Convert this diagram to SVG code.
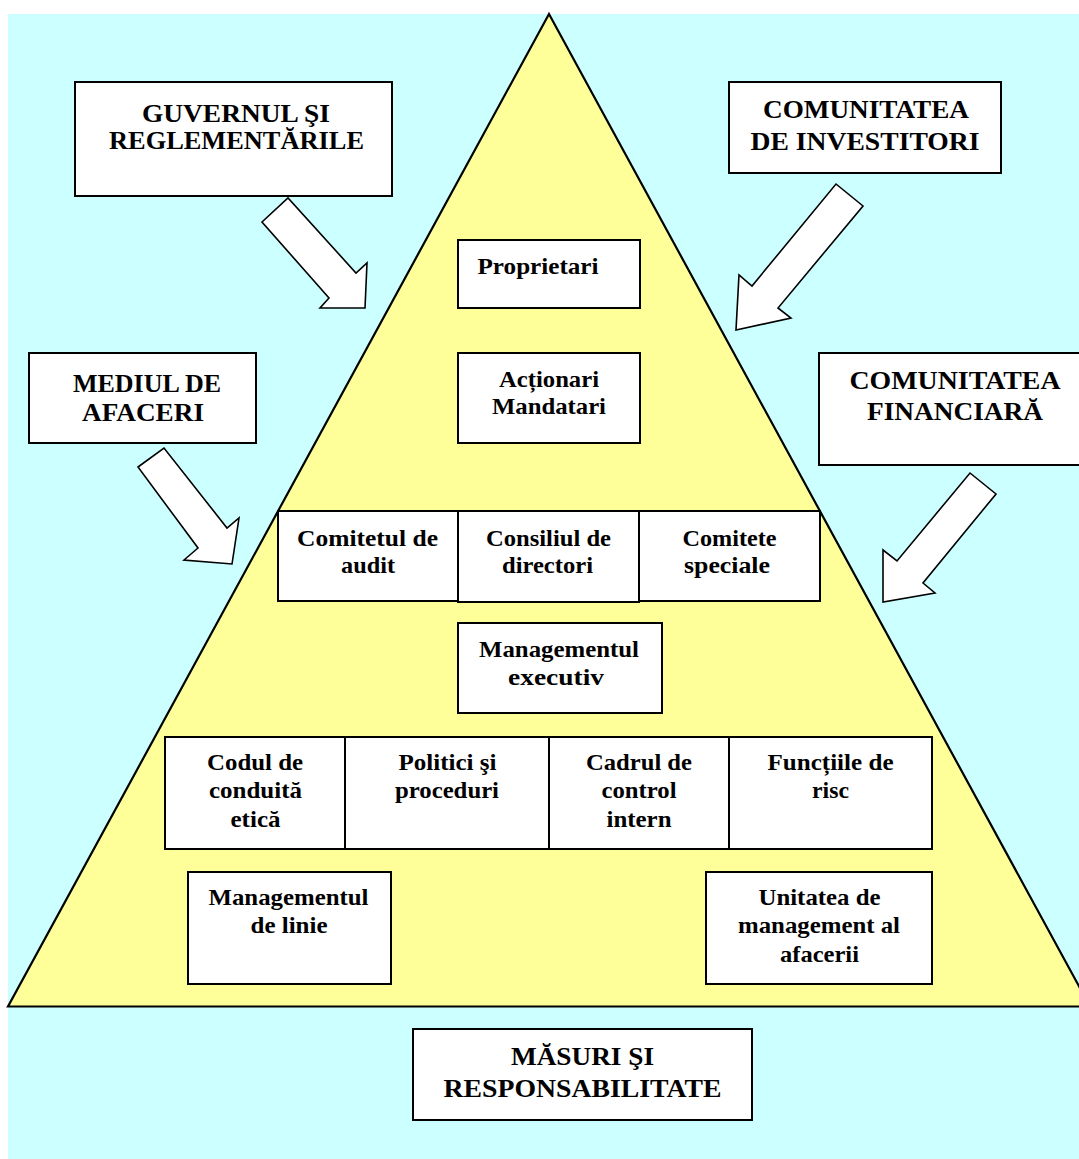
<svg xmlns="http://www.w3.org/2000/svg" width="1079" height="1159" viewBox="0 0 1079 1159">
<style>
.box{fill:#ffffff;stroke:#000000;stroke-width:2}
.arrow{fill:#ffffff;stroke:#000000;stroke-width:1.6;stroke-linejoin:miter}
.out{font-family:"Liberation Serif","Times New Roman",serif;font-weight:bold;font-size:25px;fill:#000;text-anchor:middle}
.in{font-family:"Liberation Serif","Times New Roman",serif;font-weight:bold;font-size:24px;fill:#000;text-anchor:middle}
</style>
<rect x="0" y="0" width="1079" height="1159" fill="#ffffff"/>
<rect id="background" x="8" y="14" width="1071" height="1145" fill="#CCFFFF"/>
<polygon id="pyramid" points="549,14 8,1006.5 1090,1006.5" fill="#FFFF99" stroke="#000" stroke-width="2.2" stroke-linejoin="miter"/>

<g id="guvernul">
<rect class="box" x="75" y="82" width="317" height="114"/>
<text class="out" x="236" y="122" textLength="188" lengthAdjust="spacingAndGlyphs">GUVERNUL ŞI</text>
<text class="out" x="236.5" y="149" textLength="255" lengthAdjust="spacingAndGlyphs">REGLEMENTĂRILE</text>
</g>
<g id="investitori">
<rect class="box" x="729" y="82" width="272" height="91"/>
<text class="out" x="866" y="118" textLength="206" lengthAdjust="spacingAndGlyphs">COMUNITATEA</text>
<text class="out" x="865" y="150" textLength="229" lengthAdjust="spacingAndGlyphs">DE INVESTITORI</text>
</g>
<g id="mediul">
<rect class="box" x="29" y="353" width="227" height="90"/>
<text class="out" x="147" y="392" textLength="148" lengthAdjust="spacingAndGlyphs">MEDIUL DE</text>
<text class="out" x="143" y="421" textLength="122" lengthAdjust="spacingAndGlyphs">AFACERI</text>
</g>
<g id="financiara">
<rect class="box" x="819" y="353" width="264" height="112"/>
<text class="out" x="955" y="389" textLength="211" lengthAdjust="spacingAndGlyphs">COMUNITATEA</text>
<text class="out" x="955" y="420" textLength="176" lengthAdjust="spacingAndGlyphs">FINANCIARĂ</text>
</g>
<g id="masuri">
<rect class="box" x="413" y="1029" width="339" height="91"/>
<text class="out" x="582.5" y="1065" textLength="143" lengthAdjust="spacingAndGlyphs">MĂSURI ŞI</text>
<text class="out" x="582.5" y="1097" textLength="278" lengthAdjust="spacingAndGlyphs">RESPONSABILITATE</text>
</g>

<g id="proprietari">
<rect class="box" x="458" y="240" width="182" height="68"/>
<text class="in" x="538" y="274" textLength="121" lengthAdjust="spacingAndGlyphs">Proprietari</text>
</g>
<g id="actionari">
<rect class="box" x="458" y="353" width="182" height="90"/>
<text class="in" x="549" y="387" textLength="100" lengthAdjust="spacingAndGlyphs">Acționari</text>
<text class="in" x="549" y="414" textLength="114" lengthAdjust="spacingAndGlyphs">Mandatari</text>
</g>
<g id="comitetul-audit">
<rect class="box" x="278" y="511" width="180" height="90"/>
<text class="in" x="367.5" y="546" textLength="141" lengthAdjust="spacingAndGlyphs">Comitetul de</text>
<text class="in" x="368" y="573" textLength="54" lengthAdjust="spacingAndGlyphs">audit</text>
</g>
<g id="consiliul">
<rect class="box" x="458" y="511" width="181" height="91"/>
<text class="in" x="548.5" y="546" textLength="125" lengthAdjust="spacingAndGlyphs">Consiliul de</text>
<text class="in" x="547.5" y="573" textLength="91" lengthAdjust="spacingAndGlyphs">directori</text>
</g>
<g id="comitete-speciale">
<rect class="box" x="639" y="511" width="181" height="90"/>
<text class="in" x="729.5" y="546" textLength="94" lengthAdjust="spacingAndGlyphs">Comitete</text>
<text class="in" x="727" y="573" textLength="86" lengthAdjust="spacingAndGlyphs">speciale</text>
</g>
<g id="management-executiv">
<rect class="box" x="458" y="623" width="204" height="90"/>
<text class="in" x="559" y="657" textLength="160" lengthAdjust="spacingAndGlyphs">Managementul</text>
<text class="in" x="556" y="685" textLength="96" lengthAdjust="spacingAndGlyphs">executiv</text>
</g>
<g id="codul">
<rect class="box" x="165" y="737" width="180" height="112"/>
<text class="in" x="255" y="770" textLength="96" lengthAdjust="spacingAndGlyphs">Codul de</text>
<text class="in" x="255.5" y="798" textLength="93" lengthAdjust="spacingAndGlyphs">conduită</text>
<text class="in" x="255.5" y="827" textLength="50" lengthAdjust="spacingAndGlyphs">etică</text>
</g>
<g id="politici">
<rect class="box" x="345" y="737" width="204" height="112"/>
<text class="in" x="447.5" y="770" textLength="98" lengthAdjust="spacingAndGlyphs">Politici şi</text>
<text class="in" x="447" y="798" textLength="104" lengthAdjust="spacingAndGlyphs">proceduri</text>
</g>
<g id="cadrul">
<rect class="box" x="549" y="737" width="180" height="112"/>
<text class="in" x="639" y="770" textLength="106" lengthAdjust="spacingAndGlyphs">Cadrul de</text>
<text class="in" x="639" y="798" textLength="75" lengthAdjust="spacingAndGlyphs">control</text>
<text class="in" x="639" y="827" textLength="65" lengthAdjust="spacingAndGlyphs">intern</text>
</g>
<g id="functiile">
<rect class="box" x="729" y="737" width="203" height="112"/>
<text class="in" x="830.5" y="770" textLength="126" lengthAdjust="spacingAndGlyphs">Funcțiile de</text>
<text class="in" x="830.5" y="798" textLength="37" lengthAdjust="spacingAndGlyphs">risc</text>
</g>
<g id="management-linie">
<rect class="box" x="188" y="872" width="203" height="112"/>
<text class="in" x="288.5" y="905" textLength="160" lengthAdjust="spacingAndGlyphs">Managementul</text>
<text class="in" x="289" y="933" textLength="77" lengthAdjust="spacingAndGlyphs">de linie</text>
</g>
<g id="unitatea">
<rect class="box" x="706" y="872" width="226" height="112"/>
<text class="in" x="819.5" y="905" textLength="122" lengthAdjust="spacingAndGlyphs">Unitatea de</text>
<text class="in" x="819" y="933" textLength="162" lengthAdjust="spacingAndGlyphs">management al</text>
<text class="in" x="819.5" y="962" textLength="79" lengthAdjust="spacingAndGlyphs">afacerii</text>
</g>

<g id="connectors">
<polygon class="arrow" points="262,222 288,198 356,273 367,263 365,308 320,308 329,298"/>
<polygon class="arrow" points="836,184 863,206 778,308 791,318 736,330 739,275 752,286"/>
<polygon class="arrow" points="138,467 164,448 227,528 239,518 232,564 184,560 198,548"/>
<polygon class="arrow" points="970,473 996,494 923,583 935,593 883,602 883,550 897,561"/>
</g>
</svg>
